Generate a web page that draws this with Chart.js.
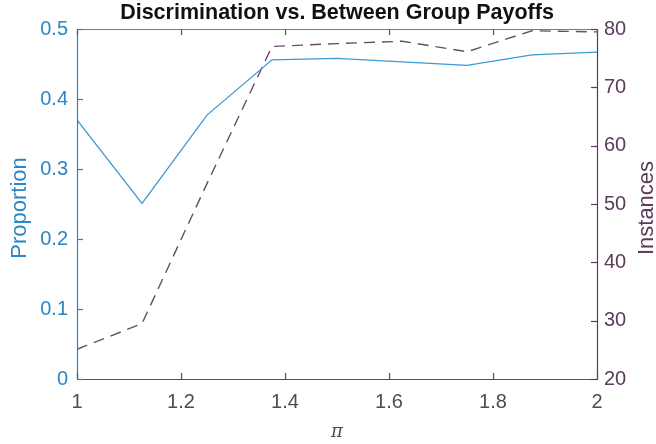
<!DOCTYPE html>
<html>
<head>
<meta charset="utf-8">
<script src="https://cdn.jsdelivr.net/npm/chart.js@4.4.1/dist/chart.umd.min.js"></script>
<style>
  html, body { margin: 0; padding: 0; background: #ffffff; }
  #wrap { width: 656px; height: 444px; }
</style>
</head>
<body>
<div id="wrap"><canvas id="c" width="656" height="444"></canvas></div>
<script>
// Payoff ratio π and the two measured series
const piValues    = [1, 1.125, 1.25, 1.375, 1.5, 1.625, 1.75, 1.875, 2];
const proportion  = [0.370, 0.251, 0.377, 0.456, 0.458, 0.453, 0.448, 0.463, 0.467];
const instances   = [25.1, 29.5, 53.5, 77.0, 77.5, 77.9, 76.1, 79.7, 79.5];

// Axis ranges and tick steps
const xRange = [1, 2],     xStep = 0.2;
const propRange = [0, 0.5], propStep = 0.1;
const instRange = [20, 80], instStep = 10;

const titleText = 'Discrimination vs. Between Group Payoffs';
const leftTitle = 'Proportion';
const rightTitle = 'Instances';
const xTitle = 'π';

const BLUE_TEXT = '#2a86c4';
const BLUE_LINE = '#3c9ad2';
const PURPLE_TEXT = '#5a3a5d';
const PURPLE_LINE = '#6a4a6d';
const GREY = '#4d4d4d';
const FONT = '"Liberation Sans", Arial, Helvetica, sans-serif';

// Box, inward ticks and all titles, drawn through the chart's scales
const decorations = {
  id: 'decorations',
  afterDatasetsDraw(chart) {
    const { ctx, chartArea: a, scales } = chart;
    const tl = 6;
    ctx.save();
    ctx.lineWidth = 1.2;
    const seg = (x1, y1, x2, y2, c) => {
      ctx.strokeStyle = c;
      ctx.beginPath(); ctx.moveTo(x1, y1); ctx.lineTo(x2, y2); ctx.stroke();
    };
    // frame
    seg(a.left, a.top + 0.5, a.right, a.top + 0.5, '#7a7a7a');
    seg(a.left, a.bottom + 0.5, a.right, a.bottom + 0.5, '#555555');
    seg(a.left + 0.5, a.top, a.left + 0.5, a.bottom, BLUE_TEXT);
    seg(a.right + 0.5, a.top, a.right + 0.5, a.bottom + 1, PURPLE_TEXT);
    // x ticks (bottom and top, pointing in)
    scales.x.ticks.forEach(t => {
      const px = Math.round(scales.x.getPixelForValue(t.value)) + 0.5;
      seg(px, a.bottom, px, a.bottom - tl, '#555555');
      seg(px, a.top, px, a.top + tl, '#555555');
    });
    scales.yL.ticks.forEach(t => {
      const py = Math.round(scales.yL.getPixelForValue(t.value)) + 0.5;
      seg(a.left, py, a.left + tl, py, BLUE_TEXT);
    });
    scales.yR.ticks.forEach(t => {
      const py = Math.round(scales.yR.getPixelForValue(t.value)) + 0.5;
      seg(a.right, py, a.right - tl, py, PURPLE_TEXT);
    });

    // chart title
    ctx.fillStyle = '#111111';
    ctx.font = 'bold 21.5px ' + FONT;
    ctx.textAlign = 'center';
    ctx.textBaseline = 'middle';
    ctx.fillText(titleText, (a.left + a.right) / 2, 13);

    // axis titles
    const midY = 208;
    ctx.font = '22px ' + FONT;
    ctx.fillStyle = BLUE_TEXT;
    ctx.save(); ctx.translate(20, midY); ctx.rotate(-Math.PI / 2);
    ctx.fillText(leftTitle, 0, 0); ctx.restore();
    ctx.fillStyle = PURPLE_TEXT;
    ctx.save(); ctx.translate(647, midY); ctx.rotate(-Math.PI / 2);
    ctx.fillText(rightTitle, 0, 0); ctx.restore();
    ctx.fillStyle = GREY;
    ctx.font = 'italic 18px "DejaVu Serif", "Liberation Serif", serif';
    ctx.fillText(xTitle, (a.left + a.right) / 2, 432);
    ctx.restore();
  }
};

const fmt = v => String(Number(v.toFixed(2)));

new Chart(document.getElementById('c'), {
  type: 'line',
  data: {
    datasets: [
      {
        label: leftTitle,
        data: piValues.map((x, i) => ({ x, y: proportion[i] })),
        yAxisID: 'yL',
        borderColor: BLUE_LINE,
        borderWidth: 1.3,
        pointRadius: 0,
        tension: 0,
        fill: false
      },
      {
        label: rightTitle,
        data: piValues.map((x, i) => ({ x, y: instances[i] })),
        yAxisID: 'yR',
        borderColor: PURPLE_LINE,
        borderWidth: 1.4,
        borderDash: [11, 7],
        pointRadius: 0,
        tension: 0,
        fill: false
      }
    ]
  },
  options: {
    responsive: false,
    animation: false,
    devicePixelRatio: 1,
    layout: { padding: { top: 29, left: 0, right: 0, bottom: 0 } },
    plugins: { legend: { display: false }, title: { display: false }, tooltip: { enabled: false } },
    scales: {
      x: {
        type: 'linear', position: 'bottom',
        min: xRange[0], max: xRange[1],
        grid: { display: false, drawTicks: false },
        border: { display: false },
        ticks: { stepSize: xStep, padding: 11, color: GREY, font: { size: 20, family: FONT }, callback: fmt, maxRotation: 0 },
        afterFit: s => { s.height = 65; }
      },
      yL: {
        type: 'linear', position: 'left',
        min: propRange[0], max: propRange[1],
        grid: { display: false, drawTicks: false },
        border: { display: false },
        ticks: { stepSize: propStep, padding: 9, color: BLUE_TEXT, font: { size: 20, family: FONT }, callback: fmt },
        afterFit: s => { s.width = 77; }
      },
      yR: {
        type: 'linear', position: 'right',
        min: instRange[0], max: instRange[1],
        grid: { display: false, drawTicks: false },
        border: { display: false },
        ticks: { stepSize: instStep, padding: 7, color: PURPLE_TEXT, font: { size: 20, family: FONT }, callback: fmt },
        afterFit: s => { s.width = 59; }
      }
    }
  },
  plugins: [decorations]
});
</script>
</body>
</html>
